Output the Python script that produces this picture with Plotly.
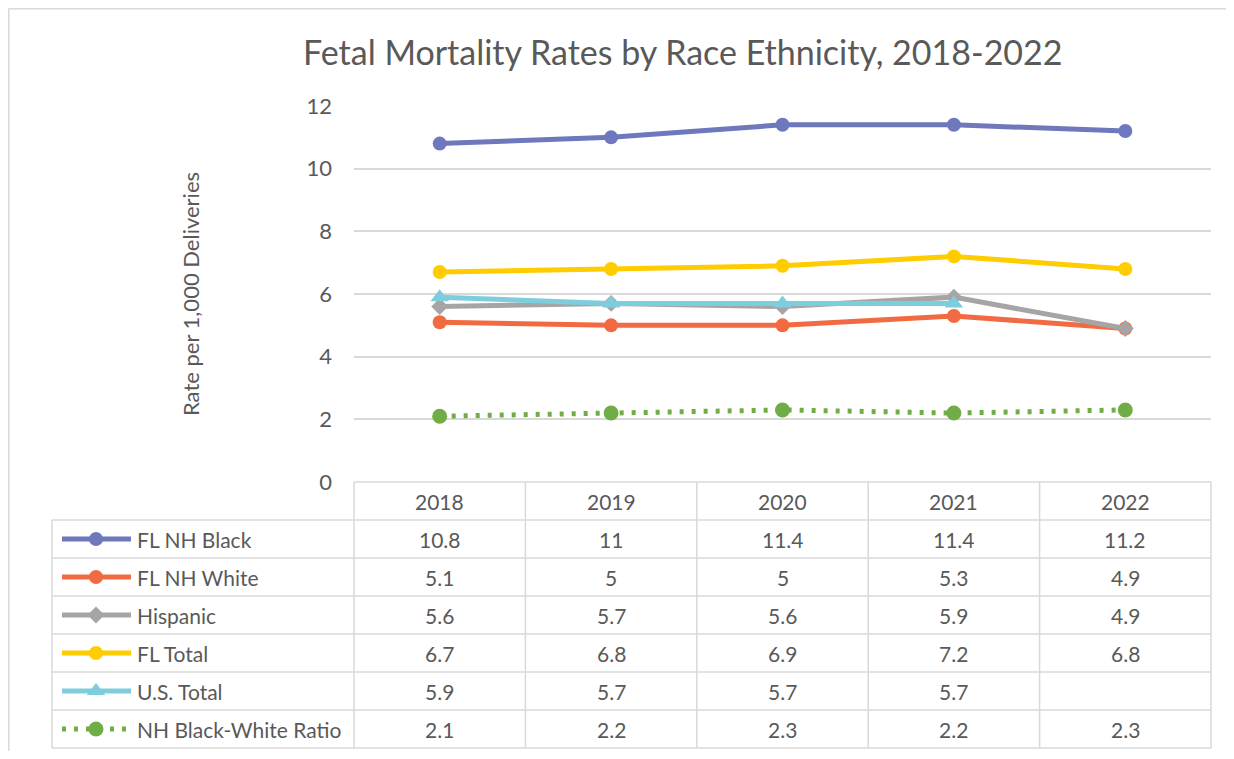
import plotly.graph_objects as go

# ---------------- data ----------------
years = ["2018", "2019", "2020", "2021", "2022"]
series_names = ["FL NH Black", "FL NH White", "Hispanic", "FL Total", "U.S. Total", "NH Black-White Ratio"]
fl_nh_black = [10.8, 11, 11.4, 11.4, 11.2]
fl_nh_white = [5.1, 5, 5, 5.3, 4.9]
hispanic = [5.6, 5.7, 5.6, 5.9, 4.9]
fl_total = [6.7, 6.8, 6.9, 7.2, 6.8]
us_total = [5.9, 5.7, 5.7, 5.7, None]
bw_ratio = [2.1, 2.2, 2.3, 2.2, 2.3]
y_ticks = [0, 2, 4, 6, 8, 10, 12]

title_text = "Fetal Mortality Rates by Race Ethnicity, 2018-2022"
y_title = "Rate per 1,000 Deliveries"

# ---------------- styles ----------------
values = [fl_nh_black, fl_nh_white, hispanic, fl_total, us_total, bw_ratio]
colors = ["#6E78BC", "#F26A41", "#A5A5A5", "#FFCC00", "#7DCDDD", "#70AD47"]
symbols = ["circle", "circle", "diamond", "circle", "triangle-up", "circle"]
msizes = [14, 14, 13, 14, 16, 15]
dashes = ["solid", "solid", "solid", "solid", "solid", "4px,8px"]

OFF = 8                      # page body margin
W, H = 1234 - 2 * OFF, 759 - 2 * OFF

def px(v):                   # reference pixel -> figure pixel
    return v - OFF

PL, PR, PT, PB = px(354), px(1211), px(106), px(482)   # plot area
LEFT = px(52)
ROW_H = 38
GRID = "#D9D9D9"
TXT = "#595959"
FONT = "Lato"
TS = 21

fig = go.Figure()

for name, vals, c, s, ms, d in zip(series_names, values, colors, symbols, msizes, dashes):
    fig.add_trace(go.Scatter(
        x=list(range(len(years))), y=vals, name=name, mode="lines+markers",
        line=dict(color=c, width=5, dash=d),
        marker=dict(color=c, symbol=s, size=ms),
        xaxis="x", yaxis="y", showlegend=False, connectgaps=False,
    ))

col_w = (PR - PL) / len(years)

def col_center(i):
    return PL + (i + 0.5) * col_w

def row_center(r):
    return PB + (r + 0.5) * ROW_H

shapes = []
annotations = []

shapes.append(dict(type="line", xref="x2", yref="y2", x0=PL, x1=PR, y0=PB, y1=PB,
                   line=dict(color=GRID, width=1.5)))
for r in range(1, len(series_names) + 2):
    yy = PB + r * ROW_H
    shapes.append(dict(type="line", xref="x2", yref="y2", x0=LEFT, x1=PR, y0=yy, y1=yy,
                       line=dict(color=GRID, width=1.5)))
bottom = PB + (len(series_names) + 1) * ROW_H
shapes.append(dict(type="line", xref="x2", yref="y2", x0=LEFT, x1=LEFT, y0=PB + ROW_H, y1=bottom,
                   line=dict(color=GRID, width=1.5)))
for i in range(len(years) + 1):
    xx = PL + i * col_w
    shapes.append(dict(type="line", xref="x2", yref="y2", x0=xx, x1=xx, y0=PB, y1=bottom,
                       line=dict(color=GRID, width=1.5)))

# chart outer border (left and top edges visible)
shapes.append(dict(type="line", xref="x2", yref="y2", x0=0.5, x1=W, y0=0.5, y1=0.5,
                   line=dict(color=GRID, width=2)))
shapes.append(dict(type="line", xref="x2", yref="y2", x0=0.5, x1=0.5, y0=0.5, y1=H,
                   line=dict(color=GRID, width=2)))

for i, yr in enumerate(years):
    annotations.append(dict(xref="x2", yref="y2", x=col_center(i), y=row_center(0), text=yr,
                            showarrow=False, font=dict(family=FONT, size=TS, color=TXT)))
for r, (name, vals) in enumerate(zip(series_names, values), start=1):
    for i, v in enumerate(vals):
        if v is None:
            continue
        annotations.append(dict(xref="x2", yref="y2", x=col_center(i), y=row_center(r),
                                text=f"{v:g}", showarrow=False,
                                font=dict(family=FONT, size=TS, color=TXT)))
    annotations.append(dict(xref="x2", yref="y2", x=px(135), y=row_center(r), text=name,
                            showarrow=False, xanchor="left",
                            font=dict(family=FONT, size=TS, color=TXT)))

for r, (name, c, s, ms, d) in enumerate(zip(series_names, colors, symbols, msizes, dashes), start=1):
    yc = row_center(r)
    fig.add_trace(go.Scatter(x=[px(62), px(131)], y=[yc, yc], mode="lines",
                             line=dict(color=c, width=5, dash=d),
                             xaxis="x2", yaxis="y2", showlegend=False, hoverinfo="skip"))
    fig.add_trace(go.Scatter(x=[px(96)], y=[yc], mode="markers",
                             marker=dict(color=c, symbol=s, size=ms),
                             xaxis="x2", yaxis="y2", showlegend=False, hoverinfo="skip"))

annotations.append(dict(xref="x2", yref="y2", x=px(683), y=px(51), text=title_text, showarrow=False,
                        font=dict(family=FONT, size=34, color=TXT)))
annotations.append(dict(xref="x2", yref="y2", x=px(190), y=(PT + PB) / 2, text=y_title,
                        showarrow=False, textangle=-90,
                        font=dict(family=FONT, size=22, color=TXT)))

fig.update_layout(
    width=W, height=H,
    margin=dict(l=0, r=0, t=0, b=0, pad=0, autoexpand=False),
    paper_bgcolor="white", plot_bgcolor="rgba(0,0,0,0)",
    xaxis=dict(domain=[PL / W, PR / W], range=[-0.5, len(years) - 0.5],
               showticklabels=False, showgrid=False, zeroline=False, showline=False,
               anchor="y", fixedrange=True, automargin=False),
    yaxis=dict(domain=[1 - PB / H, 1 - PT / H], range=[0, 12], tickvals=y_ticks,
               showgrid=True, gridcolor=GRID, gridwidth=1.5, zeroline=False, showline=False,
               ticks="", ticklabelstandoff=21, automargin=False,
               tickfont=dict(family=FONT, size=22, color=TXT), anchor="x", fixedrange=True),
    xaxis2=dict(domain=[0, 1], range=[0, W], visible=False, anchor="y2", fixedrange=True,
                automargin=False),
    yaxis2=dict(domain=[0, 1], range=[H, 0], visible=False, anchor="x2", fixedrange=True,
                automargin=False),
    shapes=shapes, annotations=annotations,
)

fig.write_html("out.html")
